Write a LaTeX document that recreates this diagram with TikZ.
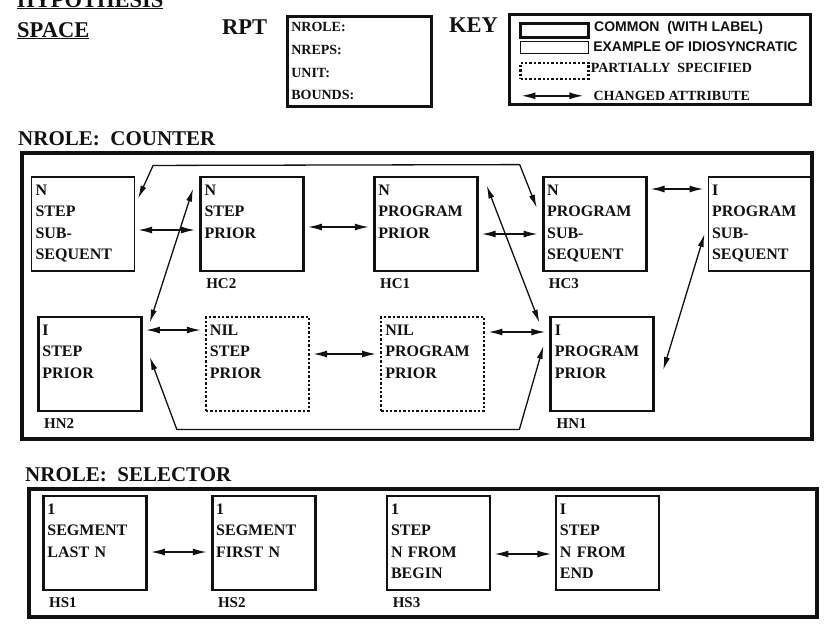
\documentclass[tikz,border=0pt]{standalone}
\usepackage{fontspec}
\setmainfont{Liberation Serif}
\newfontfamily\keysans{Liberation Sans}
\usetikzlibrary{positioning, arrows.meta, calc}
\definecolor{ink}{HTML}{111111}

\newcommand\hypfont{\fontsize{16}{21.5}\selectfont\bfseries}
\newcommand\tagfont{\fontsize{15}{18}\selectfont\bfseries}
\newcommand\headfont{\fontsize{21}{25}\selectfont\bfseries}
\newcommand\bigfont{\fontsize{22.5}{30}\selectfont\bfseries}
\newcommand\rptfont{\fontsize{14}{22.7}\selectfont\bfseries}

\begin{document}
\begin{tikzpicture}[
    x=1pt, y=-1pt,
    hyp/.style={
        rectangle, draw=ink, text=ink, font=\hypfont,
        text width=95pt, align=left, inner sep=4pt,
        text height=14pt, text depth=72pt
    },
    common/.style={hyp, line width=2.8pt},
    idio/.style={hyp, line width=1.1pt},
    partial/.style={hyp, line width=2.3pt, dash pattern=on 2.4pt off 2pt},
    frame/.style={draw=ink, line width=4pt, inner sep=0pt, anchor=north west},
    chg/.style={{Latex[length=14pt,width=7pt]}-{Latex[length=14pt,width=7pt]},
        draw=ink, line width=1.6pt, shorten <=3pt, shorten >=4pt},
    link/.style={{Latex[length=13pt,width=6pt]}-{Latex[length=13pt,width=6pt]},
        draw=ink, line width=1.3pt},
    tag/.style={font=\tagfont, text=ink, inner sep=0pt},
    head/.style={font=\headfont, text=ink, inner sep=0pt},
    big/.style={font=\bigfont, text=ink, inner sep=0pt, anchor=base west},
    keytxt/.style={font=\keysans\fontsize{14}{16}\selectfont\bfseries, text=ink, inner sep=0pt},
    keyser/.style={font=\fontsize{14}{16}\selectfont\bfseries, text=ink, inner sep=0pt},
    swatch/.style={draw=ink, minimum width=68pt, inner sep=0pt},
]
\useasboundingbox[fill=white] (0,0) rectangle (827,627);

% ---------------------------------------------------------------- heading
\node (hyptitle) [big] at (17,7)  {\underline{HYPOTHESIS}};
\node (spctitle) [big] at (17,37) {\underline{SPACE}};

\node (rptlbl) [big] at (222,34) {RPT};
\node (rpt) [draw=ink, line width=2.6pt, anchor=north west, font=\rptfont, text=ink,
    text width=136pt, align=left, inner sep=4pt, minimum height=90pt] at (286,15)
    {NROLE:\\NREPS:\\UNIT:\\BOUNDS:};

% ---------------------------------------------------------------- key
\node (keylbl) [big] at (449,32) {KEY};
\node (key) [draw=ink, line width=2.6pt, minimum width=301pt, minimum height=90pt,
    anchor=north west] at (508,13) {};

\node (keycom)  [swatch, line width=3pt, minimum height=14pt,
    below right=9pt and 11pt of key.north west] {};
\node (keyidio) [swatch, line width=1.1pt, minimum height=12pt, below=1.5pt of keycom] {};
\node (keypart) [swatch, line width=2.2pt, dash pattern=on 2.4pt off 2pt,
    minimum height=16pt, below=8pt of keyidio] {};
\coordinate (keyarrl) at ($(keypart.south west)+(2,16)$);
\coordinate (keyarrr) at ($(keyarrl)+(62,0)$);
\draw [chg, shorten <=0pt, shorten >=0pt] (keyarrl) -- (keyarrr);

\node (keycomlbl)  [keytxt, right=4pt of keycom, yshift=3pt] {COMMON\ \ (WITH LABEL)};
\node (keyidiolbl) [keytxt, right=4pt of keyidio]             {EXAMPLE OF IDIOSYNCRATIC};
\node (keypartlbl) [keyser, right=1pt of keypart, yshift=3pt] {PARTIALLY\ \ SPECIFIED};
\node (keychglbl)  [keyser, right=10pt of keyarrr]            {CHANGED ATTRIBUTE};

% ---------------------------------------------------------------- counter
\node (cntbox) [frame, minimum width=790pt, minimum height=286pt] at (20,151) {};
\node (cnttitle) [head, above right=5pt and -2pt of cntbox.north west] {NROLE:\ \ COUNTER};

\node (nss) [idio, anchor=west] at (31,224) {N\\STEP\\SUB-\\SEQUENT};
\node (hc2) [common, right=64pt of nss] {N\\STEP\\PRIOR};
\node (hc1) [common, right=68pt of hc2] {N\\PROGRAM\\PRIOR};
\node (hc3) [common, right=63pt of hc1] {N\\PROGRAM\\SUB-\\SEQUENT};
\node (ips) [idio,   right=60pt of hc3] {I\\PROGRAM\\SUB-\\SEQUENT};

\node (hn2) [common, anchor=west] at (37,364) {I\\STEP\\PRIOR};
\node (nsp) [partial, right=62pt of hn2] {NIL\\STEP\\PRIOR};
\node (npp) [partial, right=70pt of nsp] {NIL\\PROGRAM\\PRIOR};
\node (hn1) [common,  right=64pt of npp] {I\\PROGRAM\\PRIOR};

\node (hc2tag) [tag, below right=6pt and 7pt of hc2.south west] {HC2};
\node (hc1tag) [tag, below right=6pt and 7pt of hc1.south west] {HC1};
\node (hc3tag) [tag, below right=6pt and 7pt of hc3.south west] {HC3};
\node (hn2tag) [tag, below right=6pt and 7pt of hn2.south west] {HN2};
\node (hn1tag) [tag, below right=6pt and 7pt of hn1.south west] {HN1};

\draw [chg] ([yshift=-6pt]nss.east)  -- ([yshift=-6pt]hc2.west);
\draw [chg] ([yshift=-3pt]hc2.east)  -- ([yshift=-3pt]hc1.west);
\draw [chg] ([yshift=-10pt]hc1.east) -- ([yshift=-10pt]hc3.west);
\draw [chg] ([yshift=35pt]hc3.east)  -- ([yshift=35pt]ips.west);
\draw [chg] ([yshift=34pt]hn2.east)  -- ([yshift=34pt]nsp.west);
\draw [chg] ([yshift=10pt]nsp.east)  -- ([yshift=10pt]npp.west);
\draw [chg] ([yshift=32pt]npp.east)  -- ([yshift=32pt]hn1.west);

\draw [link] ($(hn2.north east)+(7,7)$)  -- ($(hc2.north west)+(-6,13)$);
\draw [link] ($(hc1.north east)+(8,10)$) -- ($(hn1.north west)+(-10,7)$);
\draw [link] ($(hn1.east)+(8,6)$)        -- ($(ips.west)+(-3,10)$);
\draw [link] ($(nss.north east)+(3,22)$) -- ($(nss.north east)+(18,-11)$)
    -- ($(hc3.north west)+(-22,-11)$) -- ($(hc3.north west)+(-5,32)$);
\draw [link] ($(hn2.east)+(7,-7)$) -- ($(hn2.south east)+(34,17)$)
    -- ($(hn1.south west)+(-30,17)$) -- ($(hn1.west)+(-6,-18)$);

% ---------------------------------------------------------------- selector
\node (selbox) [frame, minimum width=788pt, minimum height=128pt] at (27,487) {};
\node (seltitle) [head, above right=5pt and -2pt of selbox.north west] {NROLE:\ \ SELECTOR};

\node (hs1) [common, anchor=west] at (42,543) {1\\SEGMENT\\LAST N};
\node (hs2) [common, right=63pt of hs1] {1\\SEGMENT\\FIRST N};
\node (hs3) [common, right=69pt of hs2] {1\\STEP\\N FROM\\BEGIN};
\node (hse) [idio,   right=64pt of hs3] {I\\STEP\\N FROM\\END};

\node (hs1tag) [tag, below right=6pt and 7pt of hs1.south west] {HS1};
\node (hs2tag) [tag, below right=6pt and 7pt of hs2.south west] {HS2};
\node (hs3tag) [tag, below right=6pt and 7pt of hs3.south west] {HS3};

\draw [chg] ([yshift=-9pt]hs1.east)  -- ([yshift=-9pt]hs2.west);
\draw [chg] ([yshift=-11pt]hs3.east) -- ([yshift=-11pt]hse.west);

\end{tikzpicture}
\end{document}
